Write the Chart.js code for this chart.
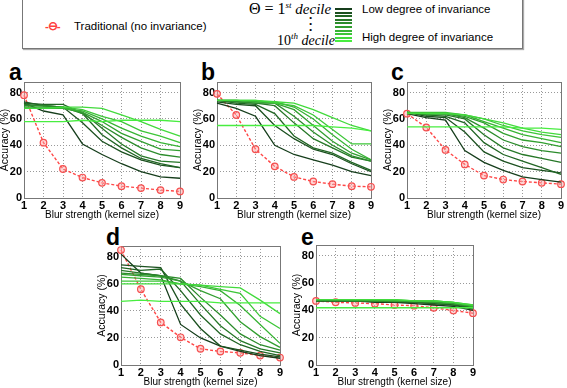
<!DOCTYPE html>
<html>
<head>
<meta charset="utf-8">
<script src="https://cdn.jsdelivr.net/npm/chart.js@4.4.0/dist/chart.umd.min.js"></script>
<style>
  body { margin: 0; width: 567px; height: 388px; background: #fff; position: relative; overflow: hidden;
         font-family: "Liberation Sans", Arial, sans-serif; }
  canvas { position: absolute; }
  .lab { position: absolute; font-weight: bold; font-size: 23px; line-height: 22px; color: #000; }
  #legend { position: absolute; left: 22px; top: -1px; width: 499px; height: 48px; border: 1px solid #777;
            box-shadow: 1px 1px 1px #aaa; background: #fff; }
  .lt { position: absolute; font-size: 11.5px; white-space: nowrap; color: #000; }
  .math { position: absolute; font-family: "Liberation Serif", "DejaVu Serif", serif; font-size: 14px; white-space: nowrap; }
  .math i { font-style: italic; }
  .math sup { font-size: 9px; font-style: italic; }
  .sw { position: absolute; left: 312px; width: 17px; height: 2px; }
</style>
</head>
<body>
<div id="legend">
  <div class="lt" style="left:22px;top:19px;color:#ff4040;font-weight:bold;letter-spacing:-1px;">-&#x2296;-</div>
  <div class="lt" style="left:51px;top:20px;">Traditional (no invariance)</div>
  <div class="math" style="left:226px;top:0px;font-size:15px;"><span style="font-size:16px">&Theta; = 1</span><sup>st</sup> <i>decile</i></div>
  <div class="math" style="left:286px;top:12px;font-size:13px;line-height:6px;font-weight:bold;">.<br>.<br>.</div>
  <div class="math" style="left:254px;top:31px;">10<sup>th</sup> <i>decile</i></div>
  <div class="lt" style="left:339px;top:3px;">Low degree of invariance</div>
  <div class="lt" style="left:339px;top:31px;">High degree of invariance</div>
  <div id="swatches"></div>
</div>

<div class="lab" style="left:9px;top:61px;">a</div>
<div class="lab" style="left:201px;top:61px;">b</div>
<div class="lab" style="left:391px;top:61px;">c</div>
<div class="lab" style="left:106px;top:226px;">d</div>
<div class="lab" style="left:301px;top:226px;">e</div>

<canvas id="ca"></canvas>
<canvas id="cb"></canvas>
<canvas id="cc"></canvas>
<canvas id="cd"></canvas>
<canvas id="ce"></canvas>

<script>
const blurSizes = ['1', '2', '3', '4', '5', '6', '7', '8', '9'];
const yTicks = [0, 20, 40, 60, 80];

// red = traditional, green rows = 1st .. 10th decile
const redA = [78, 42, 22, 15.5, 11.5, 9, 7.5, 6, 5];
const greenA = [
  [72, 66, 63, 41, 33, 26, 20, 16, 15],
  [73, 70, 69, 57, 43, 35, 29, 25, 23],
  [72, 71, 71, 64, 48, 38, 30, 26, 23],
  [71, 70, 69, 65, 53, 41, 32, 28, 27],
  [70, 70, 69, 64, 55, 46, 38, 33, 31],
  [69, 69, 68, 65, 58, 49, 43, 37, 36],
  [68, 68, 68, 66, 60, 53, 47, 42, 39],
  [68, 68, 69, 67, 62, 58, 51, 47, 42],
  [68, 68, 69, 69, 68, 63, 58, 52, 47],
  [58, 58, 58, 59, 58, 59, 59, 59, 58]
];

const redB = [79, 63, 37, 24, 16, 12.5, 10.5, 9, 8.5];
const greenB = [
  [72, 68, 62, 40, 33, 29, 25, 20, 17],
  [73, 71, 70, 55, 45, 37, 33, 26, 20],
  [74, 72, 71, 64, 47, 38, 34, 27, 21],
  [74, 73, 72, 70, 57, 45, 38, 31, 28],
  [74, 73, 72, 72, 62, 50, 40, 32, 28],
  [74, 74, 73, 72, 67, 55, 43, 34, 29],
  [74, 74, 73, 73, 69, 60, 48, 37, 29],
  [74, 74, 74, 72, 70, 63, 52, 41, 41],
  [74, 74, 74, 73, 72, 67, 61, 55, 51],
  [55, 55, 55, 55, 55, 55, 54, 53, 51]
];

const redC = [64, 53.5, 36.5, 25.5, 17, 14, 12.5, 11.5, 10.5];
const greenC = [
  [64, 61, 59, 36, 27, 21, 16, 14, 12],
  [65, 62, 61, 50, 35, 28, 23, 21, 19],
  [65, 63, 62, 57, 42, 33, 28, 23, 18],
  [65, 63, 63, 60, 48, 38, 33, 30, 27],
  [65, 64, 64, 61, 53, 44, 39, 36, 34],
  [65, 64, 64, 62, 57, 49, 44, 42, 39],
  [65, 64, 64, 63, 58, 53, 48, 45, 42],
  [65, 65, 65, 63, 60, 55, 51, 48, 46],
  [64, 64, 64, 63, 60, 57, 53, 50, 48],
  [54, 54, 54, 54, 54, 54, 53, 53, 52]
];

const redD = [85, 56, 31.5, 20.5, 12, 10, 9, 7, 5.5];
const greenD = [
  [82, 68, 66, 30, 20, 14, 10, 7, 5],
  [74, 73, 72, 45, 27, 14, 11, 8, 6],
  [72, 70, 71, 55, 37, 23, 15, 10, 7],
  [70, 68, 66, 62, 45, 29, 18, 12, 9],
  [68, 67, 66, 64, 50, 37, 23, 15, 11],
  [67, 66, 65, 62, 55, 49, 32, 21, 13],
  [65, 64, 63, 60, 58, 55, 44, 30, 16],
  [62, 62, 62, 60, 59, 56, 53, 36, 27],
  [60, 60, 60, 60, 59, 58, 57, 48, 38],
  [47, 48, 47, 47, 47, 46, 46, 46, 46]
];

const redE = [47, 46, 45.5, 45, 44, 43.5, 42, 40, 38];
const greenE = [
  [47, 47, 47, 46, 46, 45, 44, 43, 40],
  [47, 47, 47, 47, 46, 46, 45, 44, 41],
  [47, 47, 47, 47, 47, 46, 45, 44, 42],
  [47, 47, 47, 47, 47, 46, 46, 45, 42],
  [48, 48, 47, 47, 47, 47, 46, 45, 43],
  [48, 48, 48, 47, 47, 47, 46, 45, 43],
  [48, 48, 48, 48, 47, 47, 47, 46, 43],
  [48, 48, 48, 48, 48, 47, 47, 46, 44],
  [48, 48, 48, 48, 48, 47, 47, 46, 44],
  [42, 42, 42, 42, 42, 42, 42, 42, 42]
];

function greenShade(i) {
  const t = i / 9;
  const r = Math.round(22 + t * 50);
  const g = Math.round(62 + t * 175);
  const b = Math.round(28 + t * 36);
  return 'rgb(' + r + ',' + g + ',' + b + ')';
}

// legend swatches
const sw = document.getElementById('swatches');
for (let i = 0; i < 10; i++) {
  const d = document.createElement('div');
  d.className = 'sw';
  d.style.top = (8 + i * 3.6) + 'px';
  d.style.background = greenShade(i);
  sw.appendChild(d);
}

const boxPlugin = {
  id: 'box',
  beforeDatasetsDraw(chart) {
    const a = chart.chartArea;
    const ctx = chart.ctx;
    ctx.save();
    ctx.strokeStyle = '#777';
    ctx.lineWidth = 1;
    ctx.strokeRect(Math.round(a.left) + 0.5, Math.round(a.top) + 0.5,
                   Math.round(a.right - a.left), Math.round(a.bottom - a.top));
    ctx.restore();
  }
};

function makePanel(id, box, red, greens) {
  const cv = document.getElementById(id);
  const w = (box.r - box.l) + 24 + 8;
  const h = (box.b - box.t) + 12 + 24;
  cv.style.left = (box.l - 24) + 'px';
  cv.style.top = (box.t - 12) + 'px';
  cv.width = w; cv.height = h;
  cv.style.width = w + 'px'; cv.style.height = h + 'px';

  const datasets = [];
  greens.forEach((vals, i) => {
    datasets.push({
      data: vals,
      borderColor: greenShade(i),
      borderWidth: 1.3,
      pointRadius: 0,
      tension: 0,
      order: 10 - i
    });
  });
  datasets.push({
    data: red,
    borderColor: 'rgba(255,70,70,1)',
    borderWidth: 1.4,
    borderDash: [3, 2],
    pointRadius: 3.3,
    pointBorderWidth: 1.2,
    pointBorderColor: 'rgba(245,80,80,1)',
    pointBackgroundColor: 'rgba(255,160,160,0.45)',
    tension: 0,
    order: 20
  });

  new Chart(cv, {
    type: 'line',
    data: { labels: blurSizes, datasets: datasets },
    plugins: [boxPlugin],
    options: {
      responsive: false,
      animation: false,
      events: [],
      layout: { padding: { left: 0, top: 12, right: 8, bottom: 0 } },
      plugins: { legend: { display: false }, tooltip: { enabled: false } },
      scales: {
        x: {
          type: 'category',
          offset: false,
          grid: { color: '#999', drawTicks: false },
          border: { display: false, dash: [1, 2] },
          ticks: { color: '#000', padding: 1, maxRotation: 0,
                   font: { family: 'Liberation Sans', size: 11, weight: 'bold' } },
          title: { display: true, text: 'Blur strength (kernel size)', color: '#000',
                   padding: { top: 0, bottom: 2 },
                   font: { family: 'Liberation Sans', size: 10, lineHeight: 1 } },
          afterFit(s) { s.height = 24; }
        },
        y: {
          min: 0, max: 88,
          grid: { color: '#999', drawTicks: false },
          border: { display: false, dash: [1, 2] },
          ticks: { stepSize: 20, includeBounds: false, color: '#000', padding: 2,
                   callback: v => (yTicks.includes(v) ? v : ''),
                   font: { family: 'Liberation Sans', size: 11, weight: 'bold' } },
          title: { display: true, text: 'Accuracy (%)', color: '#000',
                   padding: { top: 0, bottom: 0 },
                   font: { family: 'Liberation Sans', size: 10.5, lineHeight: 1 } },
          afterFit(s) { s.width = 24; }
        }
      }
    }
  });
}

makePanel('ca', { l: 24, r: 180, t: 82, b: 198 }, redA, greenA);
makePanel('cb', { l: 217, r: 371, t: 82, b: 198 }, redB, greenB);
makePanel('cc', { l: 407, r: 561, t: 82, b: 198 }, redC, greenC);
makePanel('cd', { l: 121, r: 280, t: 246, b: 365 }, redD, greenD);
makePanel('ce', { l: 316, r: 473, t: 245, b: 365 }, redE, greenE);
</script>
</body>
</html>
